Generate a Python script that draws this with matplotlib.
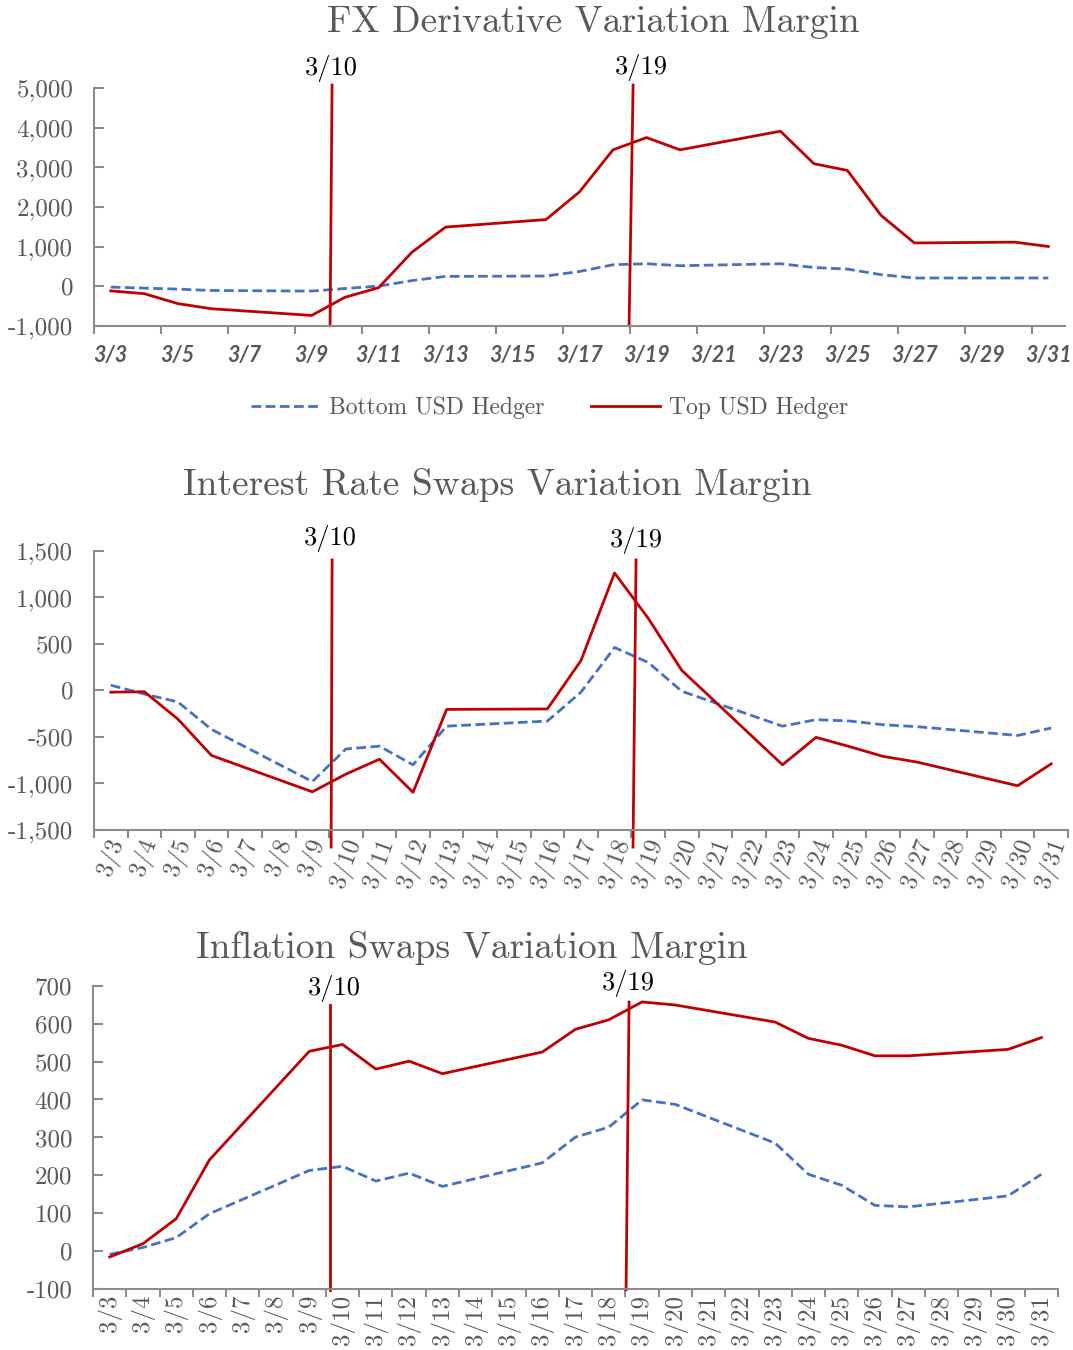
import numpy as np
import matplotlib.pyplot as plt
from matplotlib.ticker import FixedLocator, FuncFormatter, NullFormatter

# category axis: every day of March 3..31
days = ['3/%d' % d for d in range(3, 32)]
# trading days that carry data
bdays = ['3/3', '3/4', '3/5', '3/6', '3/9', '3/10', '3/11', '3/12', '3/13',
         '3/16', '3/17', '3/18', '3/19', '3/20', '3/23', '3/24', '3/25',
         '3/26', '3/27', '3/30', '3/31']

fx_bottom = [-25, -50, -75, -110, -125, -60, 0, 140, 245, 255, 370, 540,
             565, 515, 565, 470, 430, 290, 205, 205, 205]
fx_top = [-120, -190, -440, -570, -740, -280, -40, 860, 1490, 1680, 2380,
          3440, 3750, 3440, 3910, 3090, 2920, 1790, 1090, 1110, 1000]

irs_bottom = [55, -40, -125, -420, -980, -630, -600, -800, -385, -330, -20,
              460, 300, -10, -385, -315, -330, -370, -390, -485, -405]
irs_top = [-20, -15, -310, -700, -1090, -900, -740, -1095, -205, -200, 320,
           1260, 775, 215, -800, -505, -605, -710, -770, -1025, -790]

infl_bottom = [-8, 10, 36, 99, 213, 224, 185, 206, 171, 233, 301, 327, 399,
               387, 285, 203, 174, 121, 117, 146, 203]
infl_top = [-15, 20, 86, 241, 527, 545, 480, 501, 468, 525, 585, 610, 657,
            649, 604, 561, 543, 515, 515, 532, 563]

RED = '#C00000'
BLUE = '#4472C4'
GRAY = '#595959'
SPINE = '#8C8C8C'
SERIF = ['cmr10', 'DejaVu Serif']

plt.rcParams['font.family'] = SERIF
plt.rcParams['axes.unicode_minus'] = False

fig = plt.figure(figsize=(10.73, 13.5), dpi=100)

panels = [
    dict(rect=[0.0876, 0.7587, 0.905, 0.1761], lo=fx_bottom, hi=fx_top,
         ylim=(-1000, 5000), step=1000,
         title='FX Derivative Variation Margin', tpos=(0.5527, 0.9837),
         ev=[((6.61, 6.55), (1.0126, 0.0), (6.58, 1.084), '3/10'),
             ((15.60, 15.48), (1.0126, 0.0), (15.84, 1.088), '3/19')]),
    dict(rect=[0.0876, 0.3852, 0.9077, 0.2069], lo=irs_bottom, hi=irs_top,
         ylim=(-1500, 1500), step=500,
         title='Interest Rate Swaps Variation Margin', tpos=(0.4632, 0.6407),
         ev=[((6.59, 6.56), (0.967, -0.061), (6.53, 1.042), '3/10'),
             ((15.64, 15.55), (0.967, -0.061), (15.64, 1.038), '3/19')]),
    dict(rect=[0.0867, 0.0450, 0.8993, 0.2249], lo=infl_bottom, hi=infl_top,
         ylim=(-100, 700), step=100,
         title='Inflation Swaps Variation Margin', tpos=(0.44, 0.2978),
         ev=[((6.62, 6.62), (0.936, -0.002), (6.74, 0.989), '3/10'),
             ((15.61, 15.52), (0.946, -0.002), (15.60, 1.006), '3/19')]),
]

xb = [days.index(d) for d in bdays]

for k, p in enumerate(panels):
    ax = fig.add_axes(p['rect'])
    l1, = ax.plot(xb, p['lo'], color=BLUE, lw=2.0, ls=(0, (3.5, 1.6)),
                  label='Bottom USD Hedger')
    l2, = ax.plot(xb, p['hi'], color=RED, lw=2.0, label='Top USD Hedger')
    ax.set_xlim(-0.5, len(days) - 0.5)
    ax.set_ylim(*p['ylim'])
    ax.set_yticks(np.arange(p['ylim'][0], p['ylim'][1] + 1, p['step']))
    ax.yaxis.set_major_formatter(FuncFormatter(lambda v, _: '{:,.0f}'.format(v)))
    for s in ['top', 'right']:
        ax.spines[s].set_visible(False)
    for s in ['left', 'bottom']:
        ax.spines[s].set_color(SPINE)
        ax.spines[s].set_linewidth(1.5)
    ax.tick_params(axis='y', direction='in', length=7, width=1.5, color=SPINE,
                   labelsize=18, labelcolor=GRAY, pad=15)

    if k == 0:
        ax.xaxis.set_major_locator(FixedLocator(np.arange(-0.5, 28, 2)))
        ax.xaxis.set_major_formatter(NullFormatter())
        ax.set_xticks(np.arange(0, 29, 2), [days[i] for i in range(0, 29, 2)],
                      minor=True)
        ax.tick_params(axis='x', which='major', direction='out', length=6,
                       width=1.5, color=SPINE)
        ax.tick_params(axis='x', which='minor', length=0, pad=14)
        for t in ax.get_xticklabels(minor=True):
            t.set_fontfamily('Lato')
            t.set_fontstyle('italic')
            t.set_fontweight('bold')
            t.set_fontsize(15.5)
            t.set_color(GRAY)
    else:
        ax.xaxis.set_major_locator(FixedLocator(np.arange(-0.5, 29, 1)))
        ax.xaxis.set_major_formatter(NullFormatter())
        ax.set_xticks(np.arange(29), days, minor=True)
        ax.tick_params(axis='x', which='major', direction='out', length=6,
                       width=1.5, color=SPINE)
        ax.tick_params(axis='x', which='minor', length=0, pad=4,
                       labelsize=18, labelcolor=GRAY)
        rot = 70 if k == 1 else 90
        for t in ax.get_xticklabels(minor=True):
            t.set_rotation(rot)
            t.set_ha('center')
            t.set_va('top')

    trans = ax.get_xaxis_transform()
    for (xs, ys, tp, lab) in p['ev']:
        ax.plot(xs, ys, color=RED, lw=2.0, transform=trans, clip_on=False)
        ax.text(tp[0], tp[1], lab, transform=trans, ha='center', va='center',
                fontsize=19, color='black')

    fig.text(p['tpos'][0], p['tpos'][1], p['title'], ha='center', va='center',
             fontsize=27, color=GRAY)

    if k == 0:
        fig.legend([l1, l2], ['Bottom USD Hedger', 'Top USD Hedger'],
                   loc='center', bbox_to_anchor=(0.512, 0.698), ncol=2,
                   frameon=False, fontsize=17, labelcolor=GRAY,
                   handlelength=2.9, columnspacing=2.0, handletextpad=0.4)

fig.savefig('out.png', dpi=100)
